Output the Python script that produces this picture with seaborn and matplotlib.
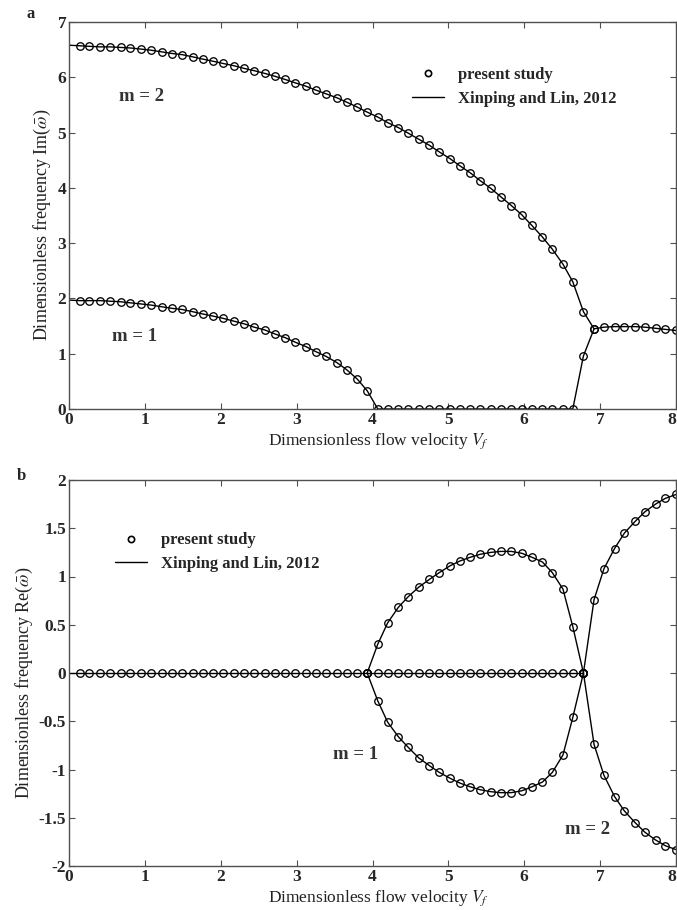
import numpy as np
import pandas as pd
import matplotlib
matplotlib.use("Agg")
import matplotlib.pyplot as plt
import seaborn as sns
from matplotlib.lines import Line2D

# ---------------- data ----------------
V = [0.00, 0.14, 0.27, 0.41, 0.54, 0.68, 0.81, 0.95, 1.08, 1.22,
     1.36, 1.49, 1.63, 1.76, 1.90, 2.03, 2.17, 2.31, 2.44, 2.58,
     2.71, 2.85, 2.98, 3.12, 3.25, 3.39, 3.53, 3.66, 3.80, 3.93,
     4.07, 4.20, 4.34, 4.47, 4.61, 4.75, 4.88, 5.02, 5.15, 5.29,
     5.42, 5.56, 5.69, 5.83, 5.97, 6.10, 6.24, 6.37, 6.51, 6.64,
     6.78, 6.92, 7.05, 7.19, 7.32, 7.46, 7.59, 7.73, 7.86, 8.00]

# (a) imaginary part, mode 2 (whole range, merged branch after V~6.9)
im_m2 = [6.58, 6.57, 6.56, 6.55, 6.55, 6.54, 6.53, 6.51, 6.49, 6.46,
         6.43, 6.41, 6.37, 6.33, 6.29, 6.25, 6.21, 6.16, 6.12, 6.07,
         6.02, 5.96, 5.90, 5.84, 5.77, 5.70, 5.63, 5.55, 5.46, 5.37,
         5.28, 5.18, 5.09, 4.99, 4.88, 4.77, 4.65, 4.53, 4.40, 4.27,
         4.13, 3.99, 3.84, 3.68, 3.51, 3.32, 3.11, 2.89, 2.62, 2.30,
         1.76, 1.45, 1.48, 1.49, 1.49, 1.49, 1.48, 1.46, 1.44, 1.42]

# (a) imaginary part, mode 1 (V = 0 ... 6.92)
im_m1 = [1.97, 1.96, 1.96, 1.96, 1.95, 1.94, 1.92, 1.90, 1.88, 1.85,
         1.82, 1.80, 1.76, 1.72, 1.68, 1.64, 1.59, 1.54, 1.48, 1.43,
         1.36, 1.29, 1.21, 1.13, 1.04, 0.95, 0.84, 0.71, 0.54, 0.33,
         0.00, 0.00, 0.00, 0.00, 0.00, 0.00, 0.00, 0.00, 0.00, 0.00,
         0.00, 0.00, 0.00, 0.00, 0.00, 0.00, 0.00, 0.00, 0.00, 0.00,
         0.96, 1.45]

# (b) real part, zero branch (V = 0 ... 6.78)
re_zero = [0.00, 0.00, 0.00, 0.00, 0.00, 0.00, 0.00, 0.00, 0.00, 0.00,
           0.00, 0.00, 0.00, 0.00, 0.00, 0.00, 0.00, 0.00, 0.00, 0.00,
           0.00, 0.00, 0.00, 0.00, 0.00, 0.00, 0.00, 0.00, 0.00, 0.00,
           0.00, 0.00, 0.00, 0.00, 0.00, 0.00, 0.00, 0.00, 0.00, 0.00,
           0.00, 0.00, 0.00, 0.00, 0.00, 0.00, 0.00, 0.00, 0.00, 0.00,
           0.00]

# (b) real part, mode 1 divergence loop (V = 3.93 ... 6.78)
re_m1_up = [0.00, 0.30, 0.52, 0.68, 0.79, 0.89, 0.97, 1.04, 1.11, 1.16,
            1.20, 1.23, 1.25, 1.26, 1.26, 1.24, 1.20, 1.15, 1.04, 0.87,
            0.48, 0.00]
re_m1_lo = [0.00, -0.29, -0.51, -0.66, -0.77, -0.88, -0.96, -1.03, -1.09, -1.14,
            -1.18, -1.21, -1.23, -1.24, -1.24, -1.22, -1.18, -1.13, -1.03, -0.85,
            -0.46, 0.00]

# (b) real part, mode 2 flutter branches (V = 6.78 ... 8.00)
re_m2_up = [0.00, 0.76, 1.08, 1.29, 1.45, 1.57, 1.67, 1.75, 1.81, 1.85]
re_m2_lo = [0.00, -0.74, -1.06, -1.28, -1.43, -1.55, -1.65, -1.73, -1.79, -1.83]

x_ticks = [0, 1, 2, 3, 4, 5, 6, 7, 8]
x_ticklabels = ["0", "1", "2", "3", "4", "5", "6", "7", "8"]
y1_ticks = [0, 1, 2, 3, 4, 5, 6, 7]
y1_ticklabels = ["0", "1", "2", "3", "4", "5", "6", "7"]
y2_ticks = [-2, -1.5, -1, -0.5, 0, 0.5, 1, 1.5, 2]
y2_ticklabels = ["-2", "-1.5", "-1", "-0.5", "0", "0.5", "1", "1.5", "2"]

legend_labels = ["present study", "Xinping and Lin, 2012"]

# ---------------- style ----------------
sns.set_style("ticks")
plt.rcParams["font.family"] = ["Liberation Serif", "DejaVu Serif"]
plt.rcParams["mathtext.fontset"] = "stix"
plt.rcParams["axes.unicode_minus"] = False

W, H = 677, 910
fig = plt.figure(figsize=(W / 100, H / 100), dpi=100)
ax1 = fig.add_axes([69 / W, 1 - 409 / H, 607 / W, 387 / H])
ax2 = fig.add_axes([69 / W, 1 - 866 / H, 607 / W, 386 / H])

SPINE = "#505050"


def curve(ax, x, y, skip_first=False):
    df = pd.DataFrame({"V": x, "w": y})
    kws = dict(marker="o", markersize=5.4, markerfacecolor="none",
               markeredgecolor="black", markeredgewidth=0.95)
    if skip_first:
        kws["markevery"] = slice(1, None)
    sns.lineplot(data=df, x="V", y="w", ax=ax, estimator=None, sort=False,
                 color="black", linewidth=1.0, **kws)


# panel a
curve(ax1, V, im_m2, skip_first=True)
curve(ax1, V[:52], im_m1, skip_first=True)
# panel b
curve(ax2, V[:51], re_zero, skip_first=True)
curve(ax2, V[29:51], re_m1_up)
curve(ax2, V[29:51], re_m1_lo)
curve(ax2, V[50:], re_m2_up)
curve(ax2, V[50:], re_m2_lo)


def style(ax, yt, ytl, ylim, ylabel, ylab_x):
    ax.set_xlim(0, 8)
    ax.set_ylim(*ylim)
    ax.set_xticks(x_ticks)
    ax.set_xticklabels(x_ticklabels, fontweight="bold", fontsize=12.5)
    # keep the last label inside the (cropped) figure edge
    ax.get_xticklabels()[-1].set_horizontalalignment("right")
    ax.set_yticks(yt)
    ax.set_yticklabels(ytl, fontweight="bold", fontsize=12.5)
    ax.tick_params(direction="in", top=True, right=True, length=4.5,
                   width=0.8, color=SPINE, pad=2)
    for s in ax.spines.values():
        s.set_color(SPINE)
        s.set_linewidth(1.0)
    ax.set_xlabel("Dimensionless flow velocity $V_f$", fontsize=12.5,
                  color="#222222")
    ax.xaxis.set_label_coords(0.51, -0.058)
    ax.set_ylabel(ylabel, fontsize=13, color="#222222")
    ax.yaxis.set_label_coords(ylab_x, 0.475)
    h1 = Line2D([], [], ls="none", marker="o", ms=4.5, mfc="none",
                mec="black", mew=1.2)
    h2 = Line2D([], [], color="black", lw=1.0)
    return [h1, h2]


hs = style(ax1, y1_ticks, y1_ticklabels, (0, 7),
           r"Dimensionless frequency Im($\bar{\omega}$)", -0.026)
ax1.legend(hs, legend_labels, loc="center left", bbox_to_anchor=(0.565, 0.832),
           frameon=False, prop={"weight": "bold", "size": 12},
           handlelength=1.9, handletextpad=0.85, labelspacing=0.45,
           borderpad=0, borderaxespad=0)
hs = style(ax2, y2_ticks, y2_ticklabels, (-2, 2),
           r"Dimensionless frequency Re($\bar{\omega}$)", -0.056)
ax2.legend(hs, legend_labels, loc="center left", bbox_to_anchor=(0.076, 0.813),
           frameon=False, prop={"weight": "bold", "size": 12},
           handlelength=1.9, handletextpad=0.85, labelspacing=0.45,
           borderpad=0, borderaxespad=0)

mk = dict(fontsize=13.5, fontweight="bold", color="#333333", ha="center", va="center")
ax1.text(0.96, 5.66, "m = 2", **mk)
ax1.text(0.86, 1.32, "m = 1", **mk)
ax2.text(3.78, -0.84, "m = 1", **mk)
ax2.text(6.84, -1.62, "m = 2", **mk)

fig.text(31 / W, 1 - 14 / H, "a", fontsize=12, fontweight="bold", ha="center", va="center")
fig.text(21 / W, 1 - 476 / H, "b", fontsize=12, fontweight="bold", ha="center", va="center")

fig.savefig("out.png", dpi=100)
